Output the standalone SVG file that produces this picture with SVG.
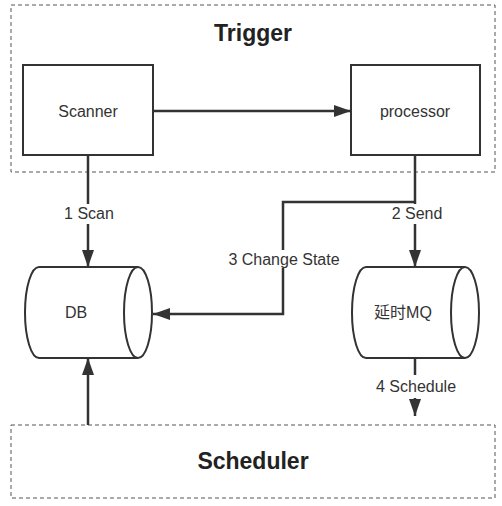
<svg xmlns="http://www.w3.org/2000/svg" width="502" height="506" viewBox="0 0 502 506">
<style>
.bg{fill:#ffffff}
.group{fill:none;stroke:#555;stroke-width:1;stroke-dasharray:4 3}
.box{fill:#fff;stroke:#333;stroke-width:2}
.line{fill:none;stroke:#333;stroke-width:2.5}
.title{font-family:"Liberation Sans",Arial,sans-serif;font-size:23px;font-weight:bold;fill:#222;text-anchor:middle}
.lbl{font-family:"Liberation Sans","Noto Sans CJK SC",Arial,sans-serif;font-size:16px;fill:#333;text-anchor:middle}
</style>
<defs>
<marker id="arr" markerUnits="userSpaceOnUse" markerWidth="18" markerHeight="14" refX="17" refY="6" orient="auto">
<path d="M0,0 L17,6 L0,12 Z" fill="#333"/>
</marker>
</defs>
<rect class="bg" width="502" height="506"/>
<g id="trigger">
<rect class="group" x="11" y="5" width="484" height="167"/>
<text class="title" x="253" y="41">Trigger</text>
</g>
<g id="scheduler">
<rect class="group" x="11" y="425" width="484" height="73"/>
<text class="title" x="253" y="469">Scheduler</text>
</g>
<g id="scanner">
<rect class="box" x="23" y="65" width="130" height="90"/>
<text class="lbl" x="88" y="117">Scanner</text>
</g>
<g id="processor">
<rect class="box" x="351" y="65" width="129" height="90"/>
<text class="lbl" x="415" y="117">processor</text>
</g>
<g id="db">
<path class="box" d="M39,267 L138,267 A14,45.5 0 0 1 138,358 L39,358 A14,45.5 0 0 1 39,267 Z"/>
<path class="box" d="M138,267 A14,45.5 0 0 0 138,358"/>
<text class="lbl" x="76" y="318">DB</text>
</g>
<g id="mq">
<path class="box" d="M366,267 L465,267 A14,45.5 0 0 1 465,358 L366,358 A14,45.5 0 0 1 366,267 Z"/>
<path class="box" d="M465,267 A14,45.5 0 0 0 465,358"/>
<text class="lbl" x="403" y="318">延时MQ</text>
</g>
<g id="connectors">
<line class="line" x1="153" y1="111" x2="351" y2="111" marker-end="url(#arr)"/>
<line class="line" x1="88" y1="155" x2="88" y2="204"/>
<line class="line" x1="88" y1="224" x2="88" y2="267" marker-end="url(#arr)"/>
<text class="lbl" x="89" y="219">1 Scan</text>
<line class="line" x1="415" y1="155" x2="415" y2="204"/>
<line class="line" x1="415" y1="224" x2="415" y2="267" marker-end="url(#arr)"/>
<text class="lbl" x="417" y="219">2 Send</text>
<polyline class="line" points="415,202 283,202 283,250"/>
<polyline class="line" points="283,268 283,314 153,314" marker-end="url(#arr)"/>
<text class="lbl" x="284" y="265">3 Change State</text>
<line class="line" x1="88" y1="425" x2="88" y2="358" marker-end="url(#arr)"/>
<line class="line" x1="415" y1="358" x2="415" y2="375"/>
<line class="line" x1="415" y1="398" x2="415" y2="416" marker-end="url(#arr)"/>
<text class="lbl" x="416" y="392">4 Schedule</text>
</g>
</svg>
